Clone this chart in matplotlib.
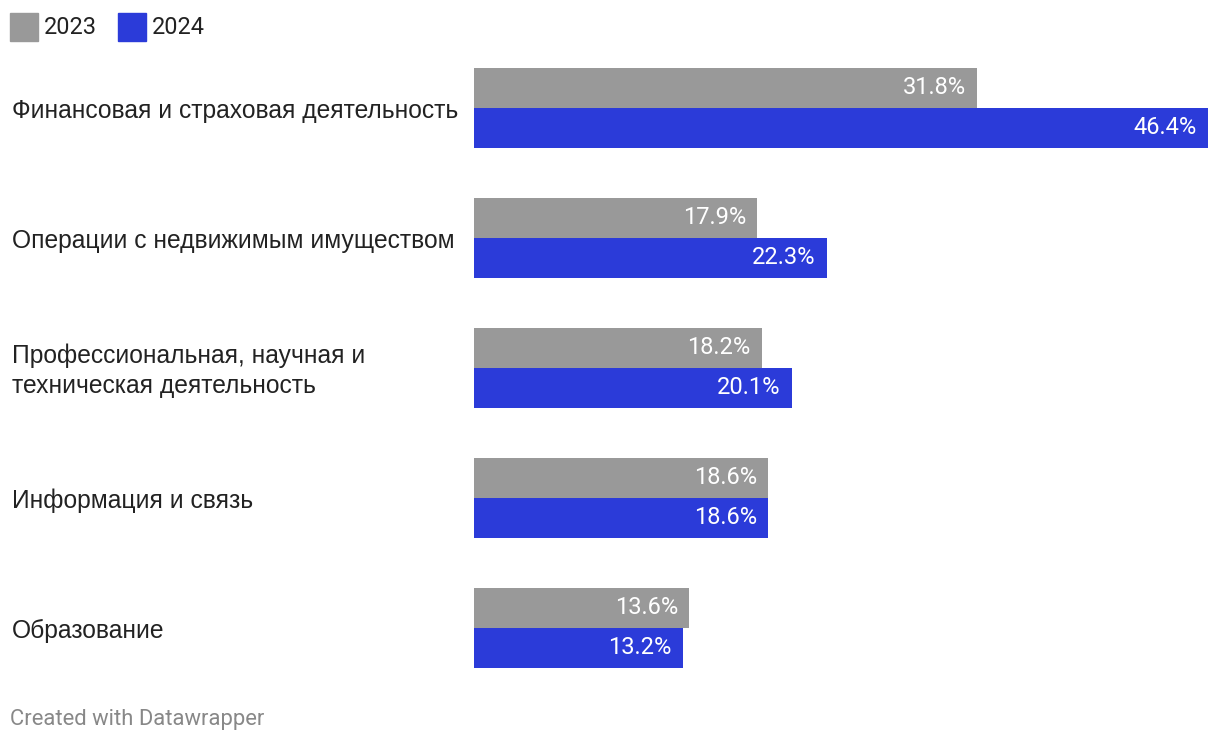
import matplotlib.pyplot as plt
import matplotlib.transforms as mtransforms
import numpy as np

plt.rcParams['font.family'] = ['Roboto', 'DejaVu Sans']

categories = ['Финансовая и страховая деятельность',
              'Операции с недвижимым имуществом',
              'Профессиональная, научная и\nтехническая деятельность',
              'Информация и связь',
              'Образование']
values_2023 = [31.8, 17.9, 18.2, 18.6, 13.6]
values_2024 = [46.4, 22.3, 20.1, 18.6, 13.2]

gray = '#999999'
blue = '#2b3bd9'

W, H = 1220, 746
fig = plt.figure(figsize=(W / 100, H / 100), dpi=100)

# axes placed in pixel terms: bars from x=474 to 1208, y from 68 to 668
ax = fig.add_axes([474 / W, 1 - 668 / H, (1208 - 474) / W, (668 - 68) / H])
bh = 40 / 130
y = np.arange(len(categories))

ax.barh(y - bh / 2, values_2023, height=bh, color=gray)
ax.barh(y + bh / 2, values_2024, height=bh, color=blue)
ax.set_xlim(0, max(values_2024))
ax.set_ylim(len(categories) - 1 + bh, -bh)
ax.axis('off')

lab_tr = mtransforms.blended_transform_factory(fig.transFigure, ax.transData)
for i in range(len(categories)):
    for v, off in ((values_2023[i], -bh / 2), (values_2024[i], bh / 2)):
        ax.annotate(f'{v}%', (v, i + off), xytext=(-8, 0), textcoords='offset points',
                    ha='right', va='center', color='white', fontsize=17)
    ax.annotate(categories[i], (12 / W, i), xycoords=lab_tr, xytext=(0, -2),
                textcoords='offset points', family=['Liberation Sans', 'DejaVu Sans'],
                ha='left', va='center', fontsize=17.7, color='#222222', linespacing=1.28)

# legend
for x0, lab, c in ((10, '2023', gray), (118, '2024', blue)):
    fig.patches.append(plt.Rectangle((x0 / W, 1 - 41 / H), 28 / W, 28 / H,
                                     transform=fig.transFigure, color=c))
    fig.text((x0 + 34) / W, 1 - 27 / H, lab, ha='left', va='center',
             fontsize=16.9, color='#222222')

fig.text(10 / W, 1 - 720 / H, 'Created with Datawrapper', ha='left', va='center',
         fontsize=15.8, color='#888888')

fig.savefig('out.png', dpi=100)
